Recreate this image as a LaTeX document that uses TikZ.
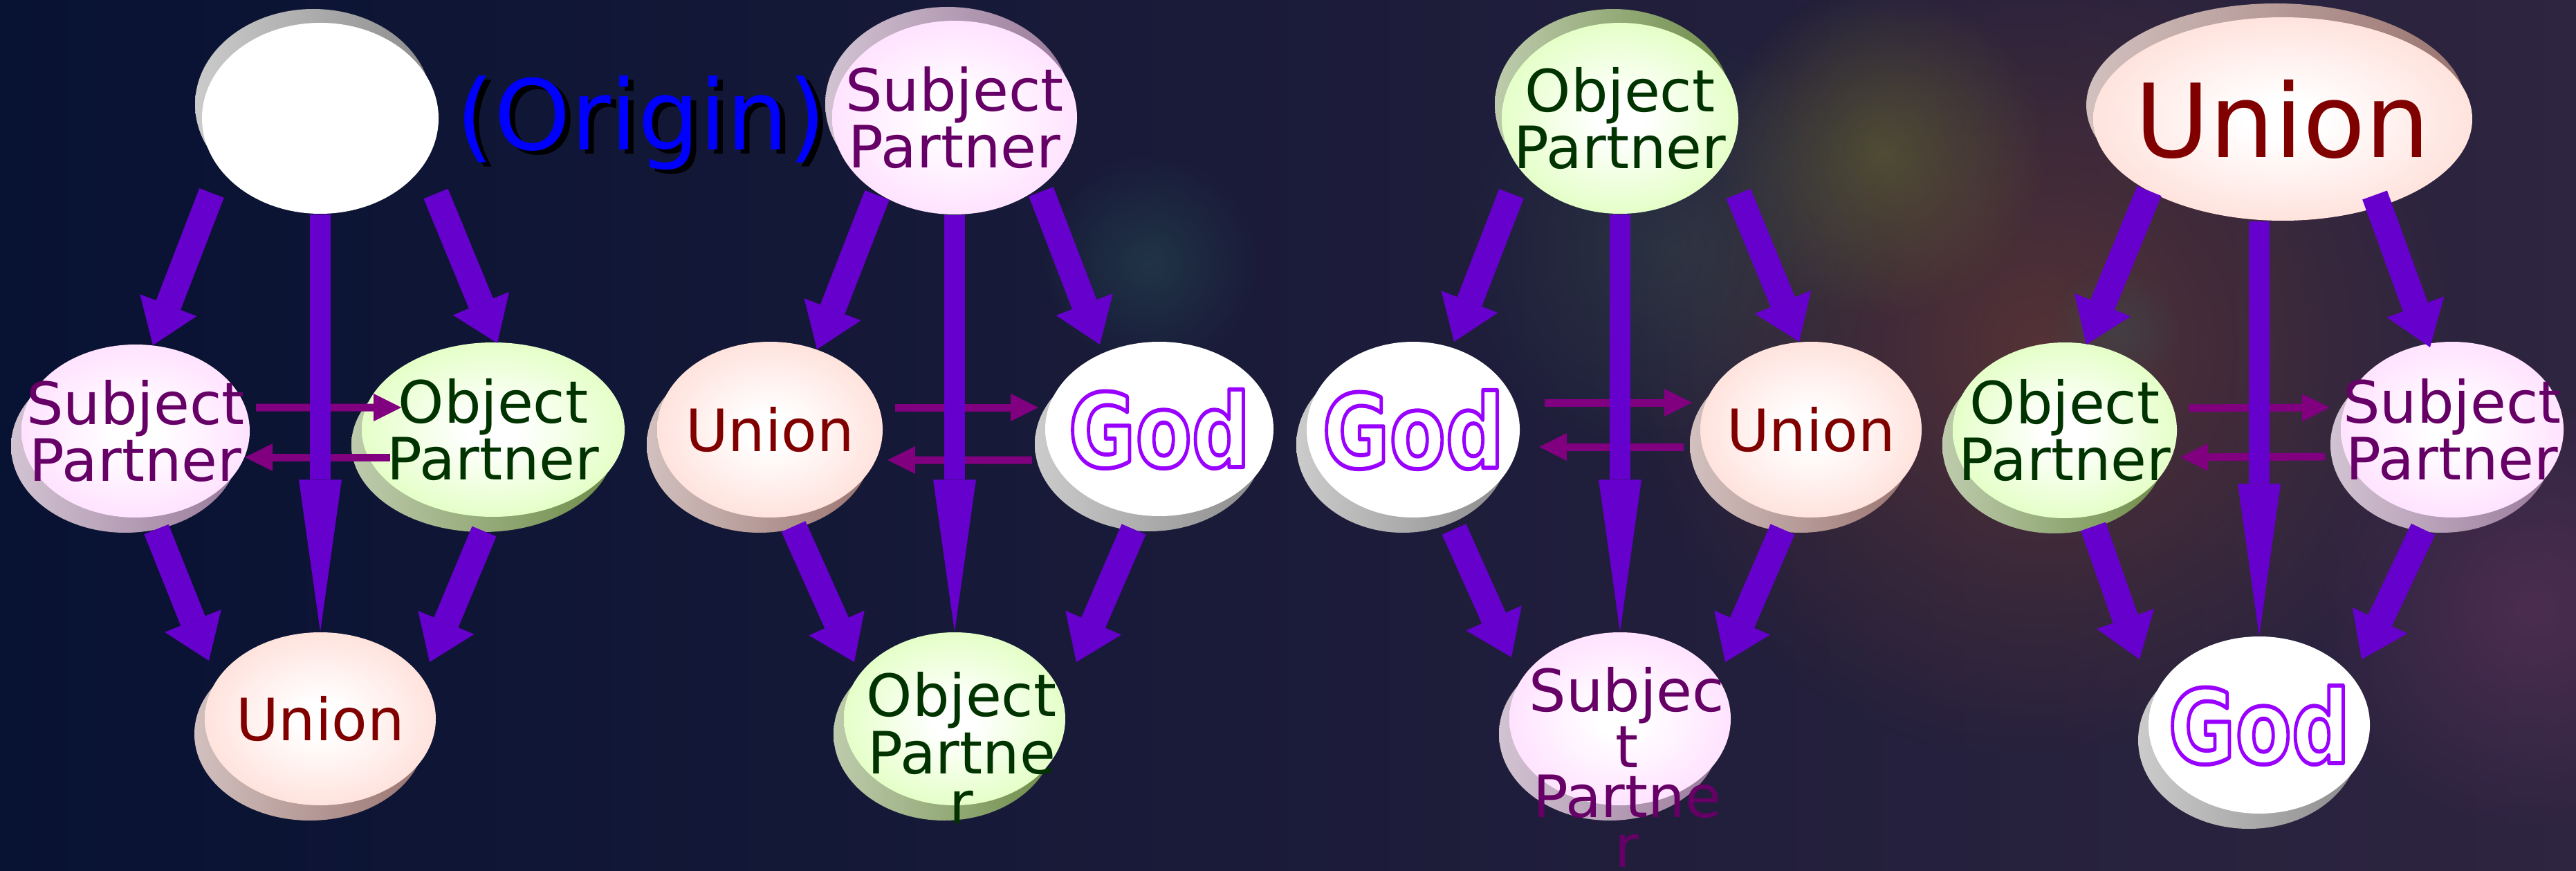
\documentclass[tikz,border=0pt]{standalone}
\usepackage{fontspec}
\setmainfont{DejaVu Sans}
\usepackage{graphicx}
\usetikzlibrary{positioning,arrows.meta,calc,shapes.geometric,shadows,fadings,backgrounds}
\definecolor{bgdeep}{HTML}{081233}
\definecolor{bgmid}{HTML}{142444}
\definecolor{bgwarm}{HTML}{2E2540}
\definecolor{glowrust}{HTML}{7A4030}
\definecolor{glowolive}{HTML}{6E7A2E}
\definecolor{glowsea}{HTML}{2E6460}
\definecolor{glowmoss}{HTML}{3E5A50}
\definecolor{glowplum}{HTML}{6A3560}
\definecolor{subjface}{HTML}{FFC4FF}
\definecolor{subjrim}{HTML}{9A7A9A}
\definecolor{subjtxt}{HTML}{660066}
\definecolor{objface}{HTML}{C8FF8C}
\definecolor{objrim}{HTML}{6E8C48}
\definecolor{objtxt}{HTML}{003300}
\definecolor{unface}{HTML}{FFC4B8}
\definecolor{unrim}{HTML}{9A7470}
\definecolor{untxt}{HTML}{800000}
\definecolor{godrim}{HTML}{8C8C8C}
\definecolor{bigarrow}{HTML}{6600CC}
\definecolor{smallarrow}{HTML}{800080}
\definecolor{origblue}{HTML}{0000FF}
\pgfdeclareradialshading{subjglow}{\pgfpoint{0bp}{0bp}}{color(0bp)=(white); color(5bp)=(white); color(28bp)=(subjface!55!white); color(44bp)=(subjface); color(50bp)=(subjface)}
\pgfdeclareradialshading{objglow}{\pgfpoint{0bp}{0bp}}{color(0bp)=(white); color(5bp)=(white); color(28bp)=(objface!55!white); color(44bp)=(objface); color(50bp)=(objface)}
\pgfdeclareradialshading{unglow}{\pgfpoint{0bp}{0bp}}{color(0bp)=(white); color(5bp)=(white); color(28bp)=(unface!55!white); color(44bp)=(unface); color(50bp)=(unface)}
\tikzfading[name=softglow,inner color=transparent!0,outer color=transparent!100]
% white letters stroked in violet
\newcommand{\godword}{\scalebox{0.8}[1]{\color{white}\special{pdf:literal direct 0.6 0 1 RG 1.7 w 1 j 2 Tr}God\special{pdf:literal direct 0 Tr}}}

\begin{document}
\begin{tikzpicture}[
  disc/.style 2 args={ellipse,inner sep=0pt,minimum width=#1,minimum height=#2},
  rimdn/.style={general shadow={shadow xshift=-0.15cm,shadow yshift=-0.22cm,left color=#1!45,right color=#1}},
  rimup/.style={general shadow={shadow xshift=-0.10cm,shadow yshift=0.20cm,left color=#1!45,right color=#1}},
  subjd/.style={shading=subjglow},
  objd/.style={shading=objglow},
  und/.style={shading=unglow},
  godd/.style={fill=white},
  txt/.style={font=\fontsize{24}{20.5}\selectfont,align=center,text=#1,inner sep=0pt},
  godtxt/.style={font=\fontsize{42}{42}\selectfont\bfseries,inner sep=0pt},
  bigtxt/.style={font=\fontsize{40}{40}\selectfont,text=#1,inner sep=0pt},
  bigar/.style={draw=bigarrow,line width=0.38cm,-{Triangle[length=0.62cm,width=0.88cm,line width=0pt]}},
  vertar/.style={draw=bigarrow,line width=0.30cm,-{Triangle[length=2.2cm,width=0.62cm,line width=0pt]}},
  smar/.style={draw=smallarrow,line width=0.11cm,-{Triangle[length=0.40cm,width=0.40cm,line width=0pt]}},
  glow/.style={fill=#1,path fading=softglow}
]
\useasboundingbox (0,0) rectangle (37.24,-12.59);
\begin{scope}[on background layer]
  \fill[left color=bgdeep,middle color=bgmid,right color=bgwarm] (0,0) rectangle (37.24,-12.59);
  \fill[glow=glowrust,fill opacity=0.55] (29.5,-5.0) circle (6.0);
  \fill[glow=glowolive,fill opacity=0.45] (27.2,-2.2) circle (2.4);
  \fill[glow=glowsea,fill opacity=0.35] (16.6,-3.8) circle (1.6);
  \fill[glow=glowmoss,fill opacity=0.35] (24.2,-3.6) circle (3.2);
  \fill[glow=glowplum,fill opacity=0.5] (36.6,-8.8) circle (3.2);
  \fill[glow=glowsea,fill opacity=0.3] (30.6,-4.8) circle (1.0);
\end{scope}

% group 1: origin
\node[disc={3.42cm}{2.76cm},godd,rimup=godrim] (orig) at (4.63,-1.71) {};
\node[bigtxt=black] (origshd) at (9.35,-1.84) {(Origin)};
\node[bigtxt=origblue] (origlbl) at (9.27,-1.78) {(Origin)};
\node[disc={3.30cm}{2.50cm},subjd,rimdn=subjrim,label={[txt=subjtxt]center:Subject\\Partner}] (sp1) at (1.96,-6.23) {};
\node[disc={3.80cm}{2.52cm},objd,rimdn=objrim,label={[txt=objtxt]center:Object\\Partner}] (op1) at (7.13,-6.21) {};
\node[disc={3.34cm}{2.50cm},und,rimdn=unrim,label={[txt=untxt]center:Union}] (un1) at (4.63,-10.39) {};

% group 2
\node[disc={3.54cm}{2.80cm},subjd,rimup=subjrim,label={[txt=subjtxt]center:Subject\\Partner}] (sp2) at (13.80,-1.70) {};
\node[disc={3.26cm}{2.54cm},und,rimdn=unrim,label={[txt=untxt]center:Union}] (un2) at (11.13,-6.21) {};
\node[disc={3.30cm}{2.52cm},godd,rimdn=godrim,label={[godtxt]center:\godword}] (god2) at (16.76,-6.20) {};
\node[disc={3.20cm}{2.50cm},objd,rimdn=objrim,label={[txt=objtxt,xshift=0.1cm,yshift=-0.42cm]center:Object\\Partne\\r}] (op2) at (13.80,-10.39) {};

% group 3
\node[disc={3.42cm}{2.76cm},objd,rimup=objrim,label={[txt=objtxt]center:Object\\Partner}] (op3) at (23.42,-1.71) {};
\node[disc={3.08cm}{2.54cm},godd,rimdn=godrim,label={[godtxt]center:\godword}] (god3) at (20.43,-6.21) {};
\node[disc={3.20cm}{2.54cm},und,rimdn=unrim,label={[txt=untxt]center:Union}] (un3) at (26.18,-6.21) {};
\node[disc={3.20cm}{2.50cm},subjd,rimdn=subjrim,label={[txt=subjtxt,xshift=0.1cm,yshift=-0.70cm]center:Subjec\\t\\Partne\\r}] (sp3) at (23.42,-10.39) {};

% group 4
\node[disc={5.48cm}{2.94cm},und,rimup=unrim,label={[bigtxt=untxt,font=\fontsize{42}{42}\selectfont]center:Union}] (un4) at (33.0,-1.72) {};
\node[disc={3.24cm}{2.54cm},objd,rimdn=objrim,label={[txt=objtxt]center:Object\\Partner}] (op4) at (29.85,-6.22) {};
\node[disc={3.22cm}{2.54cm},subjd,rimdn=subjrim,label={[txt=subjtxt]center:Subject\\Partner}] (sp4) at (35.45,-6.21) {};
\node[disc={3.20cm}{2.56cm},godd,rimdn=godrim,label={[godtxt]center:\godword}] (god4) at (32.66,-10.48) {};

% partner exchange
\draw[smar] ([shift={(1.74,0.34)}]sp1.center) -- ([shift={(-1.33,0.32)}]op1.center);
\draw[smar] ([shift={(-1.49,-0.40)}]op1.center) -- ([shift={(1.58,-0.38)}]sp1.center);
\draw[smar] ([shift={(1.81,0.32)}]un2.center) -- ([shift={(-1.75,0.31)}]god2.center);
\draw[smar] ([shift={(-1.84,-0.45)}]god2.center) -- ([shift={(1.70,-0.44)}]un2.center);
\draw[smar] ([shift={(1.90,0.39)}]god3.center) -- ([shift={(-1.72,0.39)}]un3.center);
\draw[smar] ([shift={(-1.84,-0.25)}]un3.center) -- ([shift={(1.82,-0.25)}]god3.center);
\draw[smar] ([shift={(1.79,0.32)}]op4.center) -- ([shift={(-1.77,0.32)}]sp4.center);
\draw[smar] ([shift={(-1.84,-0.39)}]sp4.center) -- ([shift={(1.67,-0.39)}]op4.center);

% flows
\draw[bigar] ([shift={(-1.57,-1.08)}]orig.center) -- ([shift={(0.25,1.24)}]sp1.center);
\draw[bigar] ([shift={(1.67,-1.09)}]orig.center) -- ([shift={(0.06,1.25)}]op1.center);
\draw[vertar] (orig.south) -- (un1.north);
\draw[bigar] ([shift={(0.30,-1.42)}]sp1.center) -- ([shift={(-1.61,0.84)}]un1.center);
\draw[bigar] ([shift={(-0.13,-1.47)}]op1.center) -- ([shift={(1.58,0.82)}]un1.center);

\draw[bigar] ([shift={(-1.12,-1.12)}]sp2.center) -- ([shift={(0.68,1.16)}]un2.center);
\draw[bigar] ([shift={(1.25,-1.07)}]sp2.center) -- ([shift={(-0.86,1.22)}]god2.center);
\draw[vertar] (sp2.south) -- (op2.north);
\draw[bigar] ([shift={(0.34,-1.40)}]un2.center) -- ([shift={(-1.45,0.82)}]op2.center);
\draw[bigar] ([shift={(-0.37,-1.45)}]god2.center) -- ([shift={(1.76,0.82)}]op2.center);

\draw[bigar] ([shift={(-1.57,-1.09)}]op3.center) -- ([shift={(0.59,1.27)}]god3.center);
\draw[bigar] ([shift={(1.71,-1.09)}]op3.center) -- ([shift={(-0.17,1.27)}]un3.center);
\draw[vertar] (op3.south) -- (sp3.north);
\draw[bigar] ([shift={(0.59,-1.44)}]god3.center) -- ([shift={(-1.57,0.89)}]sp3.center);
\draw[bigar] ([shift={(-0.41,-1.44)}]un3.center) -- ([shift={(1.52,0.82)}]sp3.center);

\draw[bigar] ([shift={(-1.93,-1.04)}]un4.center) -- ([shift={(0.31,1.24)}]op4.center);
\draw[bigar] ([shift={(1.33,-1.10)}]un4.center) -- ([shift={(-0.32,1.19)}]sp4.center);
\draw[vertar] (god4.north |- un4.south) -- (god4.north);
\draw[bigar] ([shift={(0.41,-1.39)}]op4.center) -- ([shift={(-1.73,0.95)}]god4.center);
\draw[bigar] ([shift={(-0.42,-1.44)}]sp4.center) -- ([shift={(1.48,0.95)}]god4.center);
\end{tikzpicture}
\end{document}
